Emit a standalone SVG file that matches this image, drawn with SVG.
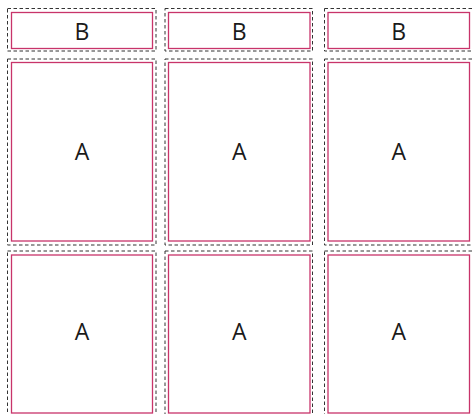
<svg xmlns="http://www.w3.org/2000/svg" width="472" height="414" viewBox="0 0 472 414">
<style>
.outer{fill:none;stroke:#333;stroke-width:1;stroke-dasharray:3.5,2.5}
.inner{fill:#fff;stroke:#c8346a;stroke-width:1.3}
.lbl{font-family:"Open Sans","DejaVu Sans",sans-serif;font-size:23px;fill:#1a1a1a;text-anchor:middle;dominant-baseline:central}
</style>
<rect width="472" height="414" fill="#fff"/>
<g id="b1"><rect class="outer" x="7.5" y="8.5" width="148.5" height="42.5"/><rect class="inner" x="11.5" y="12.5" width="141" height="36"/><text class="lbl" x="82" y="30.5">B</text></g>
<g id="b2"><rect class="outer" x="165" y="8.5" width="147.5" height="42.5"/><rect class="inner" x="168.5" y="12.5" width="141.5" height="36"/><text class="lbl" x="239.3" y="30.5">B</text></g>
<g id="b3"><rect class="outer" x="324.5" y="8.5" width="148" height="42.5"/><rect class="inner" x="328" y="12.5" width="141.5" height="36"/><text class="lbl" x="398.8" y="30.5">B</text></g>
<g id="a1"><rect class="outer" x="7.5" y="59" width="148.5" height="186"/><rect class="inner" x="11.5" y="62.5" width="141" height="178.5"/><text class="lbl" x="82" y="151">A</text></g>
<g id="a2"><rect class="outer" x="165" y="59" width="147.5" height="186"/><rect class="inner" x="168.5" y="62.5" width="141.5" height="178.5"/><text class="lbl" x="239.3" y="151">A</text></g>
<g id="a3"><rect class="outer" x="324.5" y="59" width="148" height="186"/><rect class="inner" x="328" y="62.5" width="141.5" height="178.5"/><text class="lbl" x="398.8" y="151">A</text></g>
<g id="a4"><rect class="outer" x="7.5" y="251" width="148.5" height="166"/><rect class="inner" x="11.5" y="255" width="141" height="158"/><text class="lbl" x="82" y="331">A</text></g>
<g id="a5"><rect class="outer" x="165" y="251" width="147.5" height="166"/><rect class="inner" x="168.5" y="255" width="141.5" height="158"/><text class="lbl" x="239.3" y="331">A</text></g>
<g id="a6"><rect class="outer" x="324.5" y="251" width="148" height="166"/><rect class="inner" x="328" y="255" width="141.5" height="158"/><text class="lbl" x="398.8" y="331">A</text></g>
<g id="connectors"/>
</svg>
